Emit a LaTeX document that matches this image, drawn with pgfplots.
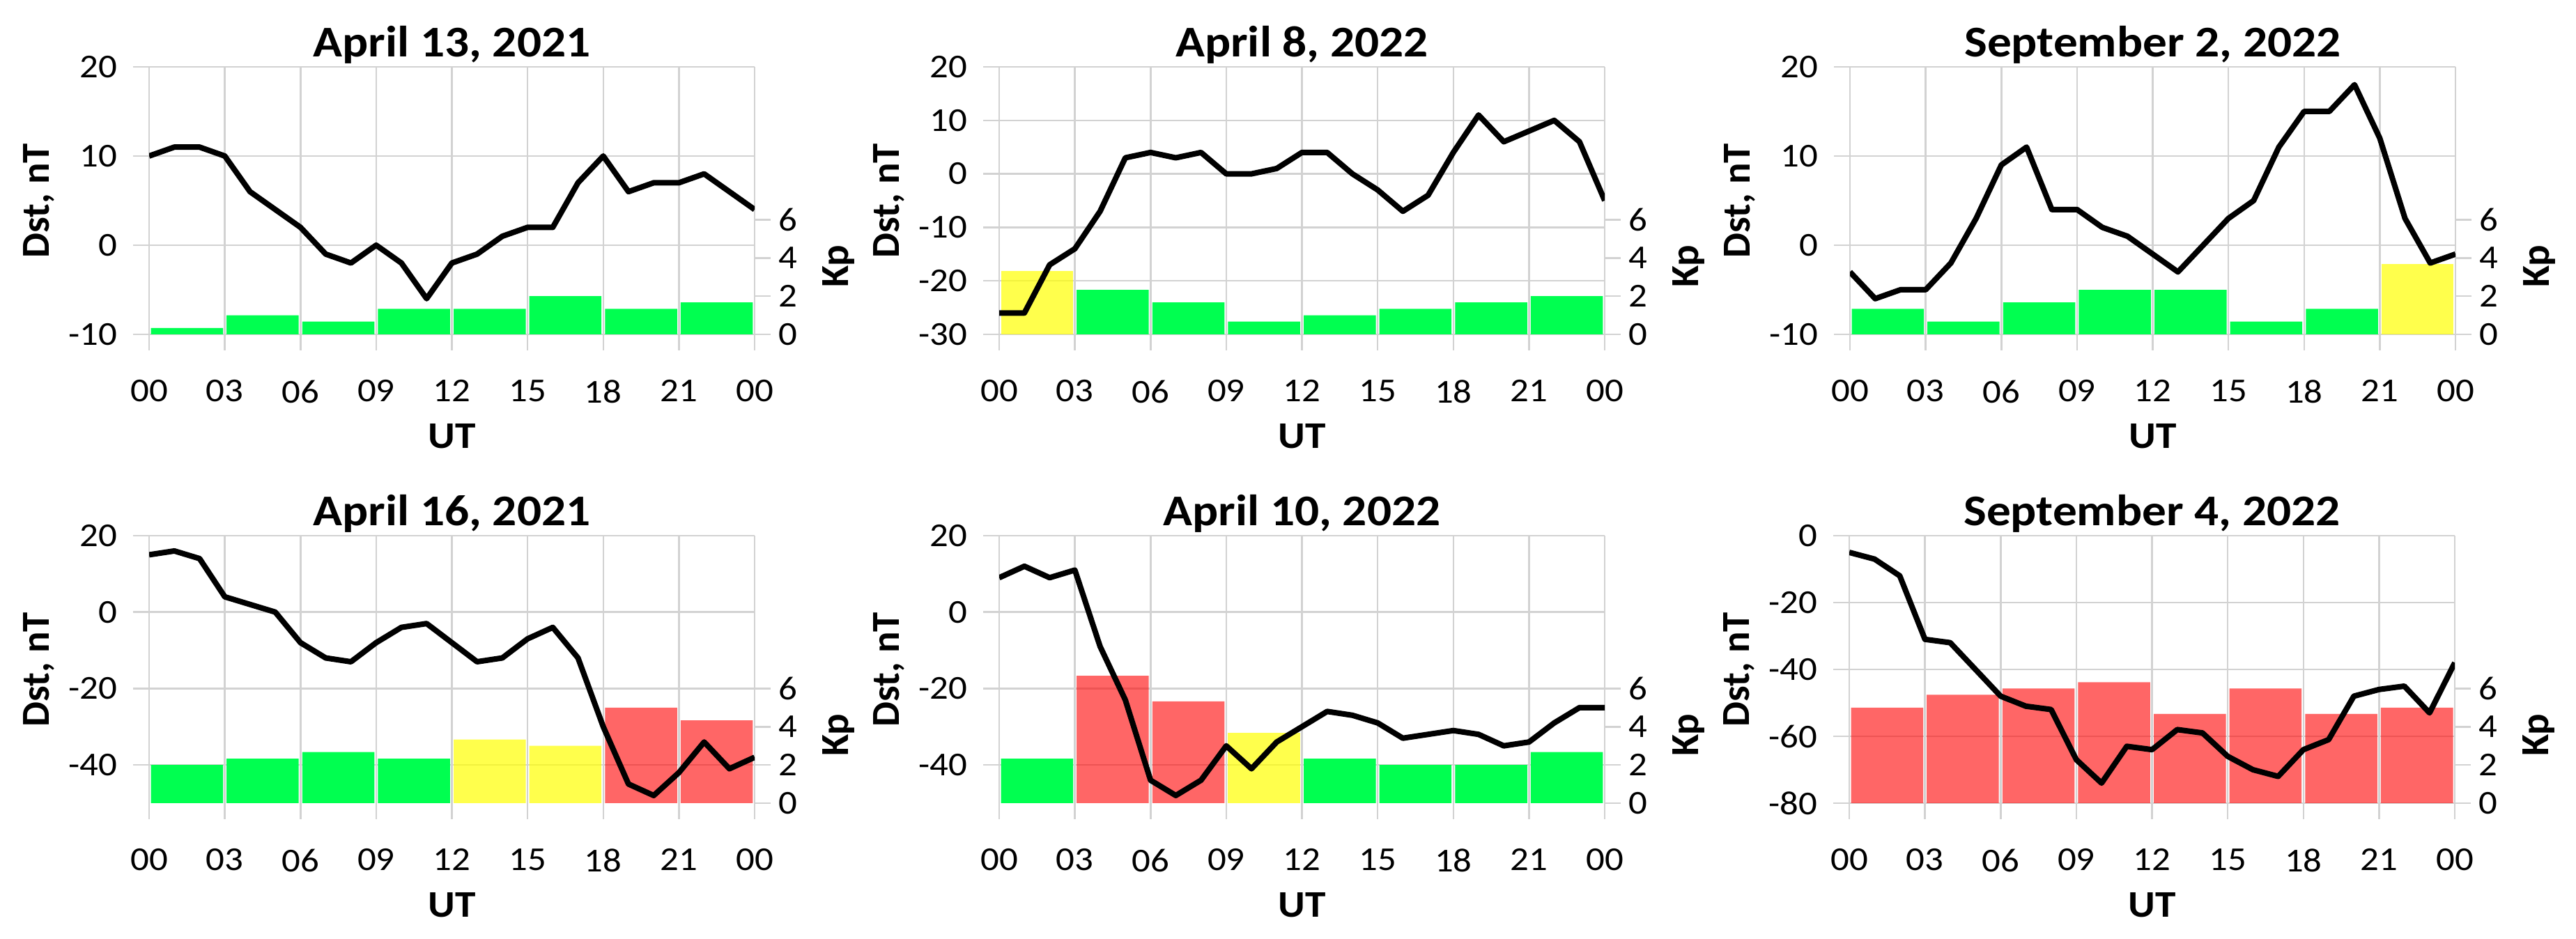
\documentclass[border=0pt]{standalone}
\usepackage{pgfplots}
\usepackage{pgfplotstable}
\pgfplotsset{compat=1.18}
\usepackage{fontspec}
\setmainfont[FakeStretch=1.1]{Carlito}
\newfontfamily\rotfont{Carlito}

\definecolor{kpgreen}{RGB}{0,255,80}
\definecolor{kpyellow}{RGB}{255,255,0}
\definecolor{kpred}{RGB}{255,0,0}

\newcommand\ticksize{\fontsize{9.6}{11}\selectfont}

% hourly Dst (nT), one column per event day
\pgfplotstableread{
h  a   b   c   d   e   f
0  10 -26 -3  15  9  -5
1  11 -26 -6  16  12 -7
2  11 -17 -5  14  9  -12
3  10 -14 -5  4   11 -31
4  6  -7  -2  2  -9  -32
5  4   3   3  0  -23 -40
6  2   4   9 -8  -44 -48
7  -1  3  11 -12 -48 -51
8  -2  4   4 -13 -44 -52
9  0   0   4 -8  -35 -67
10 -2  0   2 -4  -41 -74
11 -6  1   1 -3  -34 -63
12 -2  4  -1 -8  -30 -64
13 -1  4  -3 -13 -26 -58
14 1   0   0 -12 -27 -59
15 2  -3   3 -7  -29 -66
16 2  -7   5 -4  -33 -70
17 7  -4  11 -12 -32 -72
18 10  4  15 -30 -31 -64
19 6  11  15 -45 -32 -61
20 7   6  18 -48 -35 -48
21 7   8  12 -42 -34 -46
22 8  10   3 -34 -29 -45
23 6   6  -2 -41 -25 -53
24 4  -5  -1 -38 -25 -38
}\dst

\pgfplotsset{
  base/.style={scale only axis, width=173.8pt, height=76.8pt,
    xmin=0, xmax=24, anchor=south west},
  frame/.style={base,
    axis x line*=bottom, axis y line*=left, axis line style={draw=none},
    xtick={0,3,...,24}, xticklabels={00,03,06,09,12,15,18,21,00},
    grid=major, major grid style={draw=gray!35, line width=0.5pt},
    tick align=outside, major tick length=4.6pt,
    major tick style={draw=gray!35, line width=0.5pt},
    ticklabel style={font=\ticksize},
    xticklabel style={yshift=-5pt}, yticklabel style={xshift=-1pt},
    /pgf/number format/assume math mode=true,
    title style={font=\fontsize{12.6}{14}\selectfont\bfseries,
      at={(axis description cs:0.5,1)}, anchor=center, yshift=0.3pt},
    xlabel={UT},
    xlabel style={font=\fontsize{10.8}{12}\selectfont\bfseries,
      at={(axis description cs:0.5,-0.38)}, anchor=center},
    ylabel={Dst, nT},
    ylabel style={font=\rotfont\bfseries\fontsize{11.4}{13}\selectfont,
      at={(axis description cs:-0.182,0.5)}, anchor=center},
  },
  kp/.style={base, ymin=0, ymax=14,
    axis y line*=right, axis x line=none, y axis line style={draw=none},
    ytick={0,2,4,6}, tick align=outside, major tick length=4.6pt,
    major tick style={draw=gray!35, line width=0.5pt},
    ticklabel style={font=\ticksize}, yticklabel style={xshift=-1.2pt},
    /pgf/number format/assume math mode=true,
    ylabel={Kp},
    ylabel style={font=\rotfont\bfseries\fontsize{11.4}{13}\selectfont,
      at={(axis description cs:1.139,0.255)}, anchor=center},
  },
  dstline/.style={base, hide axis},
  kpbar/.style={ybar, bar width=2.86, bar shift=0pt, draw=none},
  green/.style={kpbar, fill=kpgreen},
  yellow/.style={kpbar, fill=kpyellow, fill opacity=0.7},
  red/.style={kpbar, fill=kpred, fill opacity=0.6},
}

% #1,#2 position  #3 title  #4 ymin  #5 ymax  #6 yticks  #7 Kp bars  #8 Dst column
\newcommand\panel[8]{%
  \begin{axis}[frame, at={(#1,#2)}, title={#3}, ymin=#4, ymax=#5, ytick={#6}]
  \end{axis}
  \begin{axis}[kp, at={(#1,#2)}]
    #7
  \end{axis}
  \begin{axis}[dstline, at={(#1,#2)}, ymin=#4, ymax=#5]
    \addplot[black, line width=1.6pt, line join=round] table[x=h, y=#8] {\dst};
  \end{axis}
}

\begin{document}
\begin{tikzpicture}
\path[use as bounding box] (0,0) rectangle (739.4pt,269.6pt);

\panel{42.8pt}{173.6pt}{April 13, 2021}{-10}{20}{-10,0,10,20}{%
  \addplot[green] coordinates {(1.5,0.33) (4.5,1) (7.5,0.67) (10.5,1.33)
    (13.5,1.33) (16.5,2) (19.5,1.33) (22.5,1.67)};
}{a}

\panel{286.8pt}{173.6pt}{April 8, 2022}{-30}{20}{-30,-20,-10,0,10,20}{%
  \addplot[yellow] coordinates {(1.5,3.33)};
  \addplot[green] coordinates {(4.5,2.33) (7.5,1.67) (10.5,0.67) (13.5,1)
    (16.5,1.33) (19.5,1.67) (22.5,2)};
}{b}

\panel{531pt}{173.6pt}{September 2, 2022}{-10}{20}{-10,0,10,20}{%
  \addplot[green] coordinates {(1.5,1.33) (4.5,0.67) (7.5,1.67) (10.5,2.33)
    (13.5,2.33) (16.5,0.67) (19.5,1.33)};
  \addplot[yellow] coordinates {(22.5,3.67)};
}{c}

\panel{42.8pt}{39pt}{April 16, 2021}{-50}{20}{-40,-20,0,20}{%
  \addplot[green] coordinates {(1.5,2) (4.5,2.33) (7.5,2.67) (10.5,2.33)};
  \addplot[yellow] coordinates {(13.5,3.33) (16.5,3)};
  \addplot[red] coordinates {(19.5,5) (22.5,4.33)};
}{d}

\panel{286.8pt}{39pt}{April 10, 2022}{-50}{20}{-40,-20,0,20}{%
  \addplot[green] coordinates {(1.5,2.33) (13.5,2.33) (16.5,2) (19.5,2) (22.5,2.67)};
  \addplot[red] coordinates {(4.5,6.67) (7.5,5.33)};
  \addplot[yellow] coordinates {(10.5,3.67)};
}{e}

\panel{530.8pt}{39pt}{September 4, 2022}{-80}{0}{-80,-60,-40,-20,0}{%
  \addplot[red] coordinates {(1.5,5) (4.5,5.67) (7.5,6) (10.5,6.33)
    (13.5,4.67) (16.5,6) (19.5,4.67) (22.5,5)};
}{f}

\end{tikzpicture}
\end{document}
